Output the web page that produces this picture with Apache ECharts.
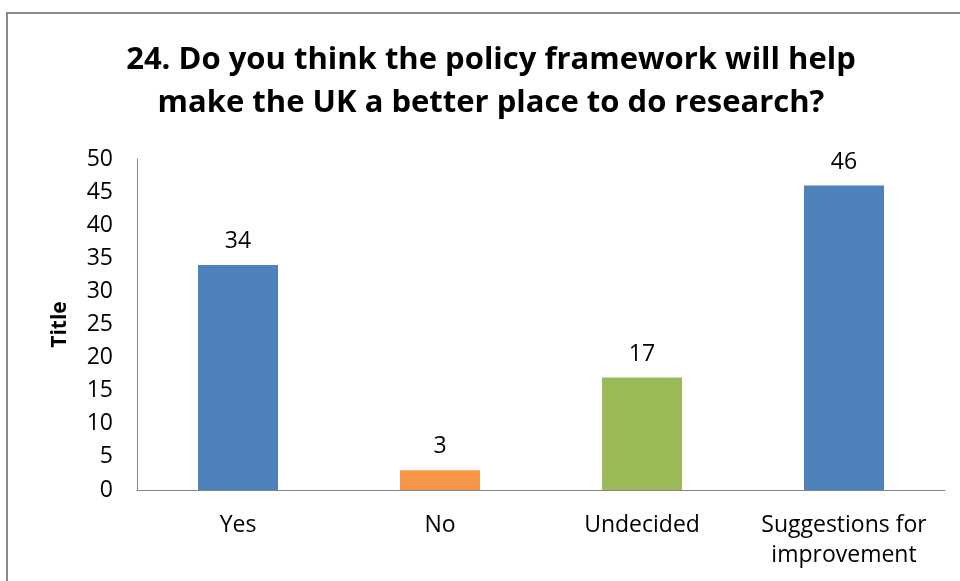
<!DOCTYPE html>
<html>
<head>
<meta charset="utf-8">
<script src="https://cdn.jsdelivr.net/npm/echarts@6/dist/echarts.min.js"></script>
<style>
  html, body { margin: 0; padding: 0; background: #fff; }
  #chart { width: 960px; height: 581px; }
</style>
</head>
<body>
<div id="chart"></div>
<script>
// Survey responses to question 24
const categories = ['Yes', 'No', 'Undecided', 'Suggestions for\nimprovement'];
const responses = [34, 3, 17, 46];
const barColors = ['#4F81BD', '#F79646', '#9BBB59', '#4F81BD'];
const yTicks = { min: 0, max: 50, interval: 5 };
const chartTitle = '24. Do you think the policy framework will help\nmake the UK a better place to do research?';

const chart = echarts.init(document.getElementById('chart'));
const font = 'Open Sans, Noto Sans, sans-serif';

chart.setOption({
  backgroundColor: '#ffffff',
  animation: false,
  graphic: [{
    type: 'rect',
    shape: { x: 7, y: 13, width: 1000, height: 1000 },
    style: { fill: 'none', stroke: '#898989', lineWidth: 2 }
  }, {
    // two-line centred heading
    type: 'text',
    x: 491,
    y: 39,
    style: {
      text: chartTitle,
      fontFamily: font,
      fontWeight: 'bold',
      fontSize: 31,
      lineHeight: 43,
      fill: '#000',
      align: 'center',
      verticalAlign: 'top'
    }
  }],
  grid: { left: 137, right: 15, top: 159, bottom: 91, containLabel: false },
  xAxis: {
    type: 'category',
    data: categories,
    axisLine: { lineStyle: { color: '#868686', width: 1 } },
    axisTick: { show: false },
    axisLabel: {
      fontFamily: font, fontSize: 23, color: '#000',
      margin: 20, lineHeight: 30, interval: 0
    }
  },
  yAxis: {
    type: 'value',
    min: yTicks.min, max: yTicks.max, interval: yTicks.interval,
    name: 'Title',
    nameLocation: 'middle',
    nameGap: 66,
    nameTextStyle: { fontFamily: font, fontWeight: 'bold', fontSize: 21, color: '#000' },
    axisLine: { show: true, lineStyle: { color: '#868686', width: 1 } },
    axisTick: { show: false },
    splitLine: { show: false },
    axisLabel: { fontFamily: font, fontSize: 23, color: '#000', margin: 24 }
  },
  series: [{
    type: 'bar',
    data: responses.map((v, i) => ({ value: v, itemStyle: { color: barColors[i] } })),
    barWidth: 80,
    label: {
      show: true,
      position: 'top',
      distance: 12,
      fontFamily: font,
      fontSize: 23,
      color: '#000'
    }
  }]
});
</script>
</body>
</html>
